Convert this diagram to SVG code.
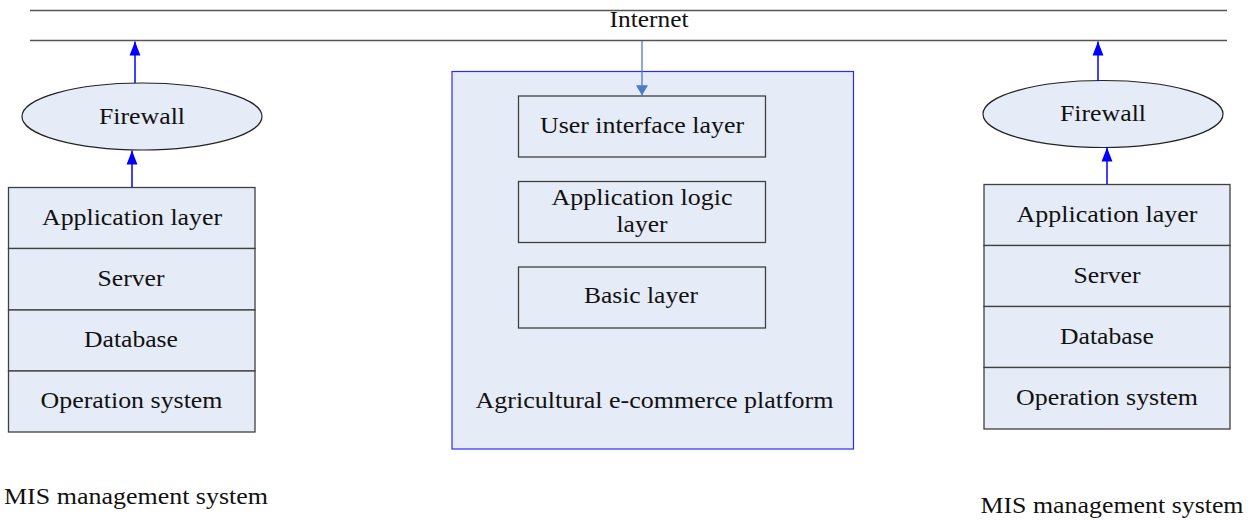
<svg xmlns="http://www.w3.org/2000/svg" width="1251" height="521" viewBox="0 0 1251 521">
<style>
text{font-family:"Liberation Serif","Times New Roman",Times,serif;font-size:23px;fill:#111;text-anchor:middle}
.box{fill:#e6ecf7;stroke:#404040;stroke-width:1.3}
.ell{fill:#e6ecf7;stroke:#222;stroke-width:1.2}
.net{stroke:#555;stroke-width:1.3;fill:none}
.blue{stroke:#0000ff;stroke-width:1.5;fill:none}
.steel{stroke:#4a7cc7;stroke-width:1.3;fill:none}
</style>
<defs>
<marker id="ab" markerUnits="userSpaceOnUse" markerWidth="14" markerHeight="18" viewBox="0 0 18 14" refX="18" refY="7" orient="auto">
<path d="M0,0 L18,7 L0,14 Z" fill="#0000ff"/>
</marker>
<marker id="as" markerUnits="userSpaceOnUse" markerWidth="14" markerHeight="12" viewBox="0 0 12 14" refX="12" refY="7" orient="auto">
<path d="M0,0 L12,7 L0,14 Z" fill="#4a7cc7"/>
</marker>
</defs>

<g id="internet">
<line class="net" x1="30" y1="10.5" x2="1227" y2="10.5"/>
<line class="net" x1="30" y1="40.5" x2="1227" y2="40.5"/>
<text x="649" y="27" textLength="79" lengthAdjust="spacingAndGlyphs">Internet</text>
</g>

<g id="firewall-left">
<ellipse class="ell" cx="142" cy="116.5" rx="120" ry="33.5"/>
<text x="142" y="124" textLength="86" lengthAdjust="spacingAndGlyphs">Firewall</text>
</g>

<g id="mis-left">
<rect class="box" x="8.5" y="187.5" width="246.5" height="61"/>
<rect class="box" x="8.5" y="248.5" width="246.5" height="61.5"/>
<rect class="box" x="8.5" y="310" width="246.5" height="61"/>
<rect class="box" x="8.5" y="371" width="246.5" height="61"/>
<text x="132" y="225" textLength="180" lengthAdjust="spacingAndGlyphs">Application layer</text>
<text x="131" y="286" textLength="67" lengthAdjust="spacingAndGlyphs">Server</text>
<text x="131" y="347" textLength="94" lengthAdjust="spacingAndGlyphs">Database</text>
<text x="131.5" y="408" textLength="182" lengthAdjust="spacingAndGlyphs">Operation system</text>
<text x="136" y="504" textLength="264" lengthAdjust="spacingAndGlyphs">MIS management system</text>
</g>

<g id="platform">
<rect x="452" y="71.5" width="401.5" height="377.5" fill="#e6ecf7" stroke="#2a2aff" stroke-width="1.2"/>
<text x="654.5" y="408" textLength="358" lengthAdjust="spacingAndGlyphs">Agricultural e-commerce platform</text>
</g>

<g id="ui-layer">
<rect class="box" x="518.5" y="96" width="247" height="61"/>
<text x="642" y="133" textLength="204" lengthAdjust="spacingAndGlyphs">User interface layer</text>
</g>

<g id="logic-layer">
<rect class="box" x="518.5" y="181.5" width="247" height="61"/>
<text x="642" y="205" textLength="181" lengthAdjust="spacingAndGlyphs">Application logic</text>
<text x="642" y="232" textLength="51" lengthAdjust="spacingAndGlyphs">layer</text>
</g>

<g id="basic-layer">
<rect class="box" x="518.5" y="267" width="247" height="61"/>
<text x="641" y="303" textLength="114" lengthAdjust="spacingAndGlyphs">Basic layer</text>
</g>

<g id="firewall-right">
<ellipse class="ell" cx="1103" cy="114" rx="120" ry="33.5"/>
<text x="1103" y="121" textLength="86" lengthAdjust="spacingAndGlyphs">Firewall</text>
</g>

<g id="mis-right">
<rect class="box" x="984" y="184.5" width="246" height="61"/>
<rect class="box" x="984" y="245.5" width="246" height="61"/>
<rect class="box" x="984" y="306.5" width="246" height="61"/>
<rect class="box" x="984" y="367.5" width="246" height="61.5"/>
<text x="1107" y="222" textLength="181" lengthAdjust="spacingAndGlyphs">Application layer</text>
<text x="1107" y="283" textLength="67" lengthAdjust="spacingAndGlyphs">Server</text>
<text x="1107" y="344" textLength="94" lengthAdjust="spacingAndGlyphs">Database</text>
<text x="1107" y="405" textLength="182" lengthAdjust="spacingAndGlyphs">Operation system</text>
<text x="1112" y="513" textLength="263" lengthAdjust="spacingAndGlyphs">MIS management system</text>
</g>

<g id="connectors">
<line class="blue" x1="135" y1="83" x2="135" y2="41.5" marker-end="url(#ab)"/>
<line class="blue" x1="132" y1="187" x2="132" y2="150.5" marker-end="url(#ab)"/>
<line class="blue" x1="1098" y1="81" x2="1098" y2="41.5" marker-end="url(#ab)"/>
<line class="blue" x1="1107" y1="184" x2="1107" y2="147.5" marker-end="url(#ab)"/>
<line class="steel" x1="642" y1="41" x2="642" y2="95.5" marker-end="url(#as)"/>
</g>
</svg>
